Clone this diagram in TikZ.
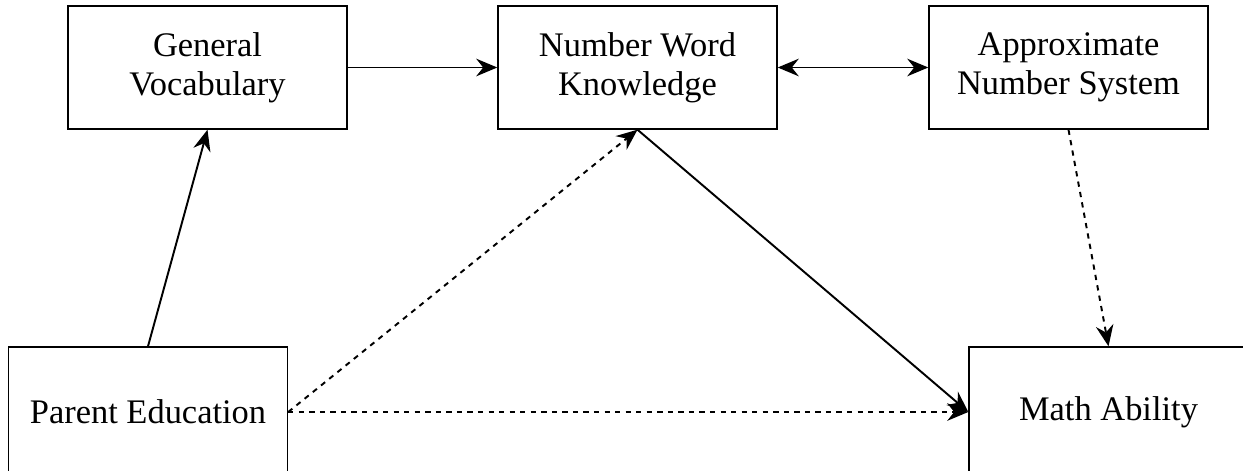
\documentclass[tikz,border=0pt]{standalone}
\usepackage{fontspec}
\setmainfont{Liberation Serif}
\usepackage{tikz}
\usetikzlibrary{arrows.meta,positioning}

\begin{document}
\begin{tikzpicture}[
          var/.style={draw=black,line width=0.8pt,rectangle,
                      minimum width=5.58cm,minimum height=2.46cm,
                      font=\fontsize{19.6}{22}\selectfont,
                      align=center,inner sep=0pt},
          low/.style={var,minimum height=2.6cm},
          tip/.style={-{Stealth[length=12pt,width=10pt,inset=4pt]}},
          path/.style={tip,line width=1.1pt},
          npath/.style={path,dashed}
        ]
        \useasboundingbox (0,0) rectangle (24.86,9.4);
        \node[var] (vocab)  at (4.15,8.05)  {General\\Vocabulary};
        \node[var] (nwk)    at (12.75,8.05) {Number Word\\Knowledge};
        \node[var] (ans)    at (21.37,8.05) {Approximate\\Number System};
        \node[low] (parent) at (2.96,1.16)  {Parent Education};
        \node[low] (math)   at (22.17,1.16) {Math Ability};
        \draw[path]  (vocab)  -- (nwk);
        \draw[path,{Stealth[length=12pt,width=10pt,inset=4pt]}-{Stealth[length=12pt,width=10pt,inset=4pt]}] (nwk) -- (ans);
        \draw[path]  (parent.north) -- (vocab.south);
        \draw[npath] (parent.east) -- (nwk.south);
        \draw[npath] (parent.east) -- (math.west);
        \draw[path]  (nwk.south) -- (math.west);
        \draw[npath] (ans.south) -- (math.north);
      \end{tikzpicture}
\end{document}
